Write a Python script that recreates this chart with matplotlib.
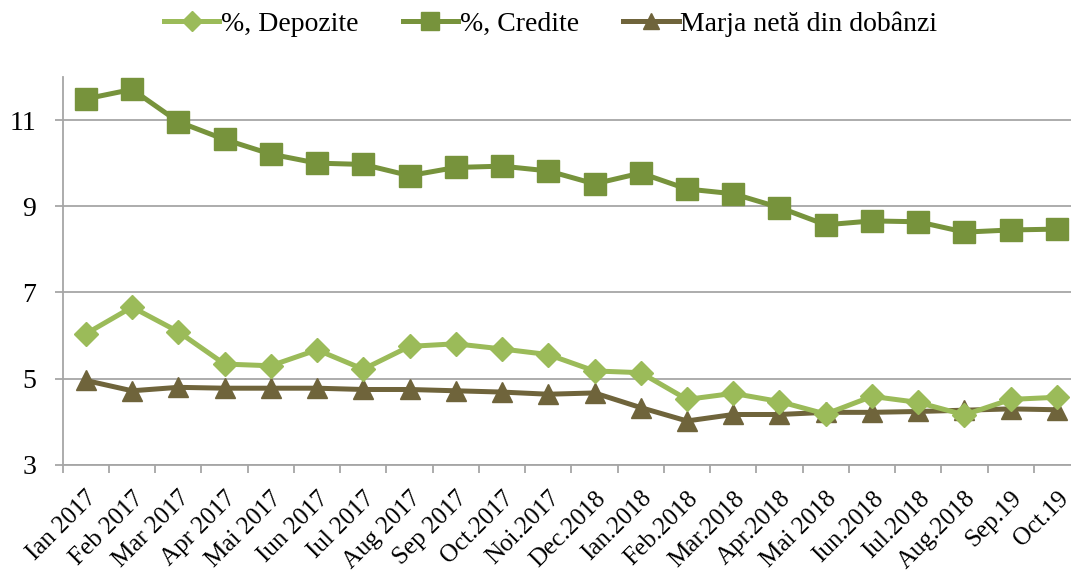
import matplotlib
matplotlib.use("Agg")
import matplotlib.pyplot as plt
import numpy as np

categories = ["Ian 2017", "Feb 2017", "Mar 2017", "Apr 2017", "Mai 2017", "Iun 2017",
              "Iul 2017", "Aug 2017", "Sep 2017", "Oct.2017", "Noi.2017", "Dec.2018",
              "Ian.2018", "Feb.2018", "Mar.2018", "Apr.2018", "Mai 2018", "Iun.2018",
              "Iul.2018", "Aug.2018", "Sep.19", "Oct.19"]

depozite = [6.04, 6.66, 6.09, 5.34, 5.30, 5.67, 5.22, 5.75, 5.81, 5.69, 5.56,
            5.18, 5.14, 4.52, 4.66, 4.47, 4.18, 4.59, 4.45, 4.16, 4.52, 4.57]
credite = [11.49, 11.71, 10.96, 10.55, 10.21, 10.00, 9.97, 9.71, 9.90, 9.93, 9.82,
           9.52, 9.77, 9.40, 9.29, 8.97, 8.57, 8.66, 8.64, 8.40, 8.45, 8.47]
marja = [4.96, 4.72, 4.80, 4.78, 4.78, 4.78, 4.75, 4.75, 4.72, 4.69, 4.64,
         4.67, 4.33, 4.02, 4.17, 4.17, 4.22, 4.22, 4.24, 4.27, 4.30, 4.28]

series_names = ["%, Depozite", "%, Credite", "Marja netă din dobânzi"]
yticks = [3, 5, 7, 9, 11]

plt.rcParams['font.family'] = ['Liberation Serif', 'DejaVu Serif']

fig = plt.figure(figsize=(10.71, 5.74), dpi=100)
ax = fig.add_axes([0.0585, 0.19, 0.95, 0.676])

x = np.arange(len(categories))
c_dep = "#9BBB59"
c_cre = "#77933C"
c_mar = "#6F643B"

ax.plot(x, marja, color=c_mar, lw=3.6, marker="^", ms=14, mec=c_mar, mfc=c_mar,
        label=series_names[2], zorder=3)
ax.plot(x, depozite, color=c_dep, lw=3.6, marker="D", ms=12.5, mec=c_dep, mfc=c_dep,
        label=series_names[0], zorder=4)
ax.plot(x, credite, color=c_cre, lw=3.6, marker="s", ms=15.5, mec=c_cre, mfc=c_cre,
        label=series_names[1], zorder=5)

ax.set_xlim(-0.5, len(categories) - 0.5)
ax.set_ylim(3, 12)
ax.set_yticks(yticks)
ax.set_yticklabels([str(v) for v in yticks], fontsize=20)
ax.yaxis.grid(True, color="#A6A6A6", lw=1.3)
ax.set_axisbelow(True)

ax.set_xticks(x)
ax.set_xticklabels(categories, rotation=45, ha="right", rotation_mode="anchor", fontsize=18)
ax.set_xticks(np.arange(-0.5, len(categories), 1.0), minor=True)
ax.tick_params(axis="x", which="major", length=0, pad=16)
ax.tick_params(axis="x", which="minor", length=6, color="#A6A6A6", width=1.3)
ax.tick_params(axis="y", length=6, color="#A6A6A6", width=1.3, pad=13)

for s in ["top", "right"]:
    ax.spines[s].set_visible(False)
for s in ["left", "bottom"]:
    ax.spines[s].set_color("#A6A6A6")
    ax.spines[s].set_linewidth(1.3)

h, l = ax.get_legend_handles_labels()
order = [1, 2, 0]
leg = fig.legend([h[i] for i in order], [l[i] for i in order], loc="center",
                 bbox_to_anchor=(0.514, 0.958), ncol=3, frameon=False, fontsize=20,
                 handlelength=2.0, columnspacing=1.6, handletextpad=0.05,
                 markerscale=0.85)

fig.savefig("out.png", dpi=100)
